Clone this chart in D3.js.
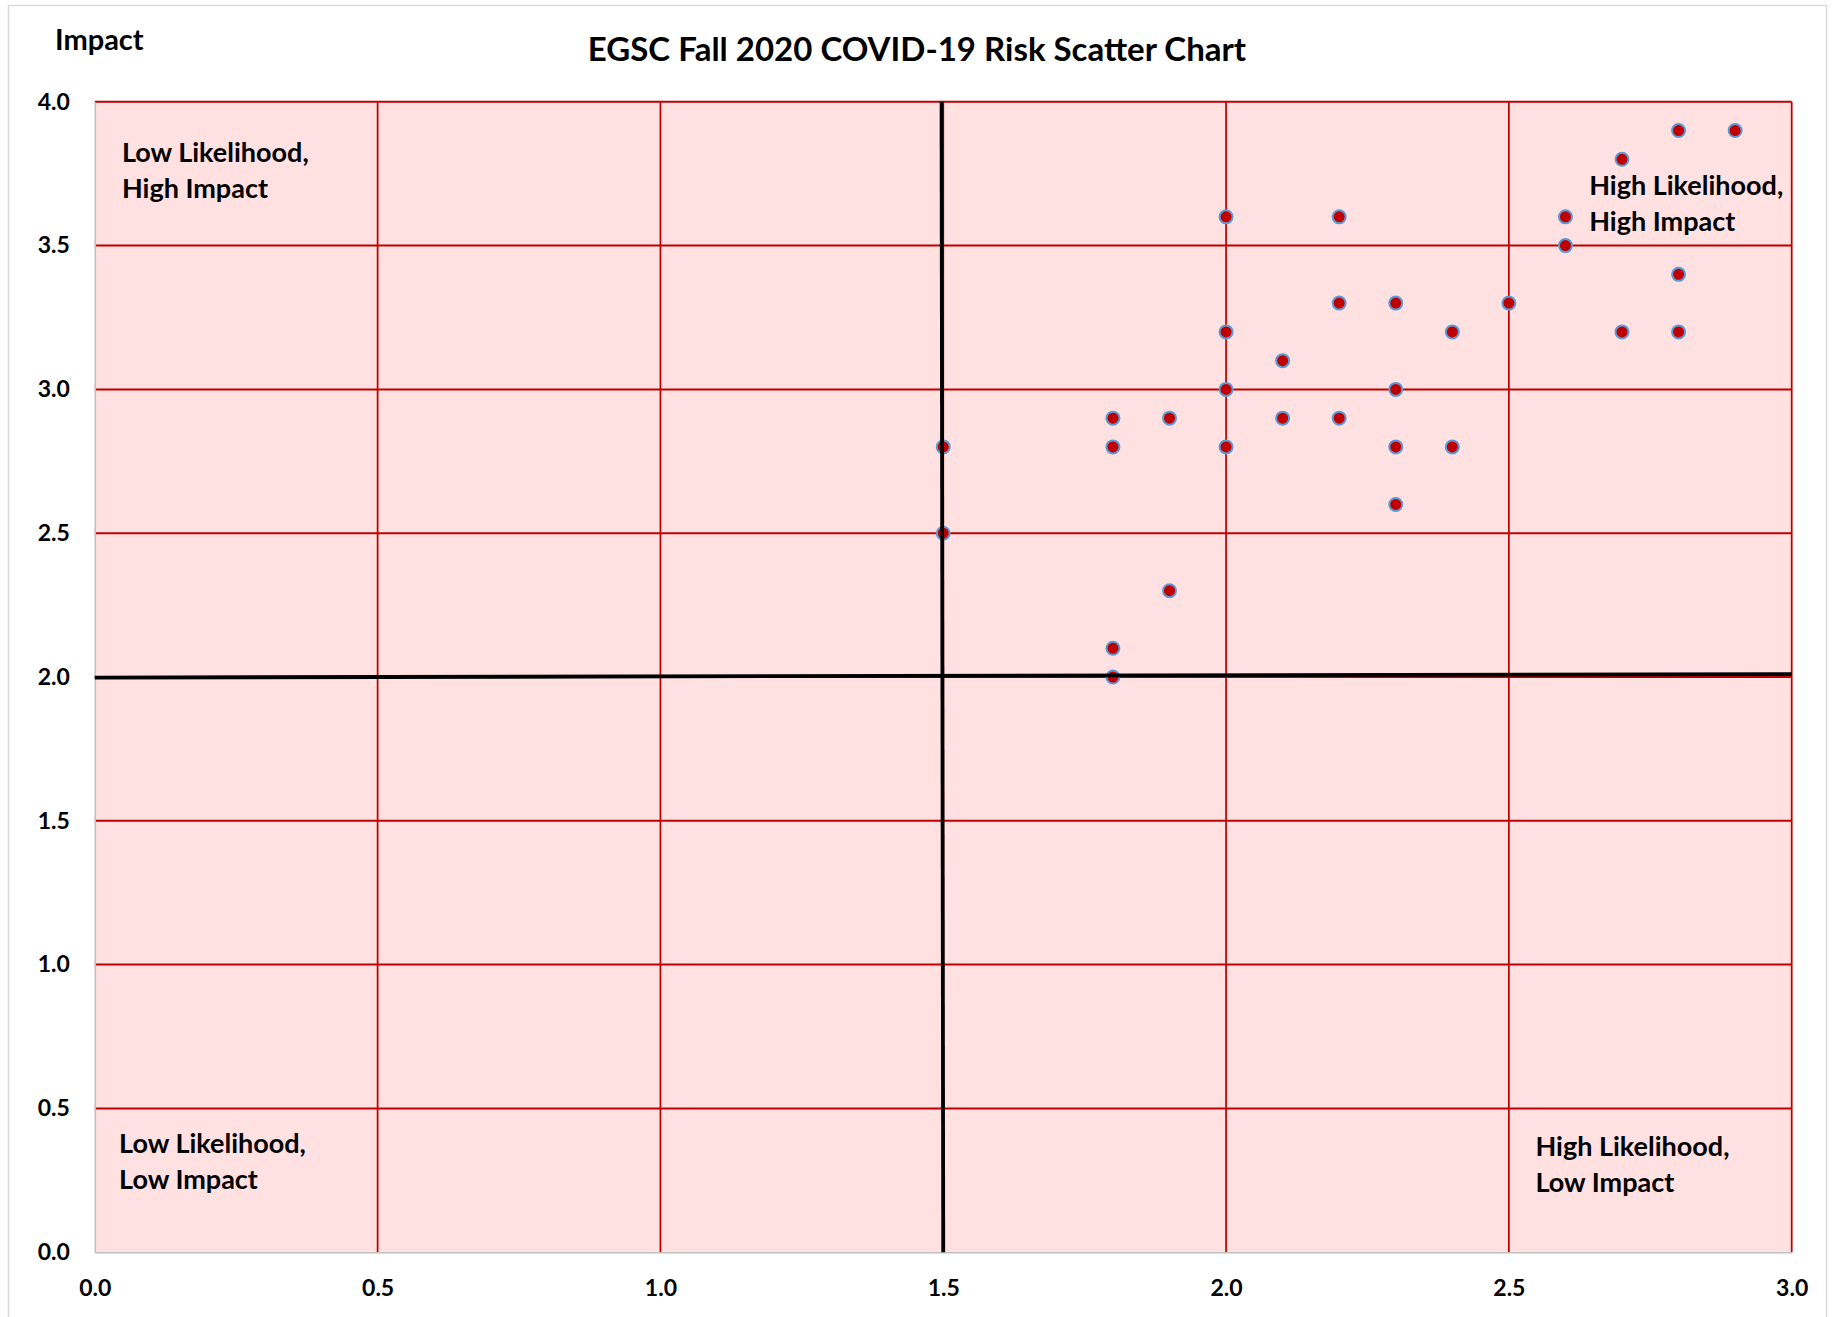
<!DOCTYPE html>
<html>
<head>
<meta charset="utf-8">
<script src="https://cdn.jsdelivr.net/npm/d3@7"></script>
<style>
  html, body { margin: 0; padding: 0; background: #ffffff; }
  svg { display: block; }
  text { font-family: Lato, "Open Sans", sans-serif; font-weight: bold; fill: #000; }
</style>
</head>
<body>
<svg id="chart" width="1835" height="1317"></svg>
<script>
// ---- data ----
const likelihood = [1.5, 1.5, 1.8, 1.8, 1.9, 1.9, 1.8, 1.8, 2.0, 2.0, 2.0, 2.0, 2.1, 2.1, 2.2, 2.2,
                    2.2, 2.3, 2.3, 2.3, 2.3, 2.4, 2.4, 2.5, 2.6, 2.6, 2.7, 2.7, 2.8, 2.8, 2.8, 2.9];
const impact     = [2.8, 2.5, 2.9, 2.8, 2.9, 2.3, 2.1, 2.0, 3.6, 3.2, 3.0, 2.8, 3.1, 2.9, 3.6, 3.3,
                    2.9, 3.3, 3.0, 2.8, 2.6, 3.2, 2.8, 3.3, 3.6, 3.5, 3.8, 3.2, 3.9, 3.4, 3.2, 3.9];
const xTicks = [0, 0.5, 1.0, 1.5, 2.0, 2.5, 3.0];
const yTicks = [0, 0.5, 1.0, 1.5, 2.0, 2.5, 3.0, 3.5, 4.0];
const dividerV = [[1.497, 4.0], [1.5, 0.0]];
const dividerH = [[0.0, 1.998], [3.0, 2.01]];
const quadrantLabels = [
  { lines: ["Low Likelihood,", "High Impact"], x: 0.048, y: 3.79 },
  { lines: ["High Likelihood,", "High Impact"], x: 2.642, y: 3.675 },
  { lines: ["Low Likelihood,", "Low Impact"], x: 0.043, y: 0.345 },
  { lines: ["High Likelihood,", "Low Impact"], x: 2.547, y: 0.334 }
];
const title = "EGSC Fall 2020 COVID-19 Risk Scatter Chart";
const yTitle = "Impact";

// ---- layout ----
const svg = d3.select("#chart");
const L = 94.8, R = 1791.7, T = 101.8, B = 1252.2;
const x = d3.scaleLinear().domain([0, 3]).range([L, R]);
const y = d3.scaleLinear().domain([0, 4]).range([B, T]);

// outer frame
svg.append("rect").attr("x", 8.5).attr("y", 5.5).attr("width", 1818).attr("height", 1330)
  .attr("fill", "#fff").attr("stroke", "#d9d9d9").attr("stroke-width", 1.5);

// plot background
svg.append("rect").attr("x", L).attr("y", T).attr("width", R - L).attr("height", B - T)
  .attr("fill", "#ffe1e1");

// gridlines
svg.append("g").selectAll("line").data(xTicks.filter(d => d > 0)).join("line")
  .attr("x1", d => x(d)).attr("x2", d => x(d)).attr("y1", T).attr("y2", B)
  .attr("stroke", "#c00000").attr("stroke-width", 1.75);
svg.append("g").selectAll("line").data(yTicks.filter(d => d > 0)).join("line")
  .attr("x1", L).attr("x2", R).attr("y1", d => y(d)).attr("y2", d => y(d))
  .attr("stroke", "#c00000").attr("stroke-width", 2);

// axes
const xAxis = svg.append("g").attr("transform", `translate(0,${B})`)
  .call(d3.axisBottom(x).tickValues(xTicks).tickFormat(d3.format(".1f")).tickSize(0).tickPadding(27));
const yAxis = svg.append("g").attr("transform", `translate(${L},0)`)
  .call(d3.axisLeft(y).tickValues(yTicks).tickFormat(d3.format(".1f")).tickSize(0).tickPadding(25));
[xAxis, yAxis].forEach(g => {
  g.select(".domain").attr("stroke", "#bfbfbf").attr("stroke-width", 1.5);
  g.selectAll("text").attr("font-family", "Lato, 'Open Sans', sans-serif")
    .attr("font-weight", "bold").attr("font-size", 23).attr("fill", "#000");
});

// points
const pts = likelihood.map((v, i) => ({ lx: v, im: impact[i] }));
svg.append("g").selectAll("circle").data(pts).join("circle")
  .attr("cx", d => x(d.lx)).attr("cy", d => y(d.im)).attr("r", 6.5)
  .attr("fill", "#c00000").attr("stroke", "#5b9bd5").attr("stroke-width", 2);

// quadrant dividers
const line = d3.line().x(d => x(d[0])).y(d => y(d[1]));
[dividerV, dividerH].forEach(dv => {
  svg.append("path").attr("d", line(dv)).attr("fill", "none")
    .attr("stroke", "#000").attr("stroke-width", 3.8);
});

// quadrant labels
quadrantLabels.forEach(q => {
  const t = svg.append("text").attr("x", x(q.x)).attr("y", y(q.y)).attr("font-size", 27);
  q.lines.forEach((s, i) => {
    t.append("tspan").attr("x", x(q.x)).attr("dy", i === 0 ? 0 : 36).text(s);
  });
});

// titles
svg.append("text").attr("x", 917).attr("y", 61).attr("text-anchor", "middle")
  .attr("font-size", 33).text(title);
svg.append("text").attr("x", 55).attr("y", 50).attr("font-size", 29).text(yTitle);
</script>
</body>
</html>
